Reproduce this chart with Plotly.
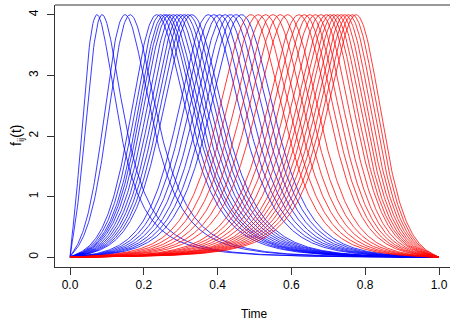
import numpy as np
import plotly.graph_objects as go

# Peak locations (Time)
blue_peaks = [0.073, 0.087, 0.149, 0.163,
              0.235, 0.245, 0.255, 0.262, 0.27, 0.28, 0.29, 0.30, 0.31, 0.32, 0.33,
              0.375, 0.39, 0.405, 0.42, 0.435, 0.45, 0.465]
red_peaks = [0.49, 0.51, 0.53, 0.55, 0.57, 0.59, 0.62, 0.635, 0.65, 0.665,
             0.68, 0.695, 0.705, 0.715, 0.725, 0.735, 0.745, 0.755, 0.765, 0.775]
peak_height = 4.0
sharpness = 38.0   # beta-like concentration near the peak
tail = 2.0         # heavier tails

x_ticks = [0.0, 0.2, 0.4, 0.6, 0.8, 1.0]
x_tick_text = ["0.0", "0.2", "0.4", "0.6", "0.8", "1.0"]
y_ticks = [0, 1, 2, 3, 4]

t = np.linspace(0, 1, 501)
tc = np.clip(t, 1e-12, 1 - 1e-12)


def curve(m):
    u = -sharpness * (m * np.log(tc / m) + (1 - m) * np.log((1 - tc) / (1 - m)))
    y = peak_height * (1 + u / tail) ** (-tail)
    y[0] = 0.0
    y[-1] = 0.0
    return y


fig = go.Figure()
for m in blue_peaks:
    fig.add_trace(go.Scatter(x=t, y=curve(m), mode="lines", opacity=0.85,
                             line=dict(color="blue", width=0.9), showlegend=False,
                             hoverinfo="skip"))
for m in red_peaks:
    fig.add_trace(go.Scatter(x=t, y=curve(m), mode="lines", opacity=0.85,
                             line=dict(color="red", width=0.9), showlegend=False,
                             hoverinfo="skip"))

font = dict(family="Liberation Sans, Arial, sans-serif", size=12, color="black")
axis_col = "#333333"

fig.update_layout(
    width=451, height=322,
    margin=dict(l=55, r=1, t=5, b=55),
    paper_bgcolor="white", plot_bgcolor="white",
    font=font,
    xaxis=dict(range=[-0.0407, 1.0298], tickvals=x_ticks, ticktext=x_tick_text,
               showgrid=False, zeroline=False, showline=True, linecolor=axis_col,
               linewidth=1, ticks="outside", ticklen=7, tickcolor=axis_col,
               tickfont=font),
    yaxis=dict(range=[-0.16, 4.16], tickvals=y_ticks,
               showgrid=False, zeroline=False, showline=True, linecolor=axis_col,
               linewidth=1, ticks="outside", ticklen=7, tickcolor=axis_col,
               tickangle=-90, tickfont=font, ticklabelstandoff=4),
    shapes=[dict(type="line", xref="paper", yref="paper", x0=0, x1=1, y0=1, y1=1,
                 line=dict(color=axis_col, width=1))],
    annotations=[
        dict(text="Time", xref="paper", yref="paper", x=(254.5 - 55) / 395, y=-(314 - 267) / 262,
             showarrow=False, xanchor="center", yanchor="middle", font=font),
        dict(text="f<sub>ij</sub>(t)", xref="paper", yref="paper", x=-(55 - 17) / 395, y=0.5,
             showarrow=False, xanchor="center", yanchor="middle", textangle=-90,
             font=dict(family="Liberation Sans, Arial, sans-serif", size=14, color="black")),
    ],
)

fig.write_html("out.html", config={"displayModeBar": False},
               post_script="document.body.style.margin='0px';")
